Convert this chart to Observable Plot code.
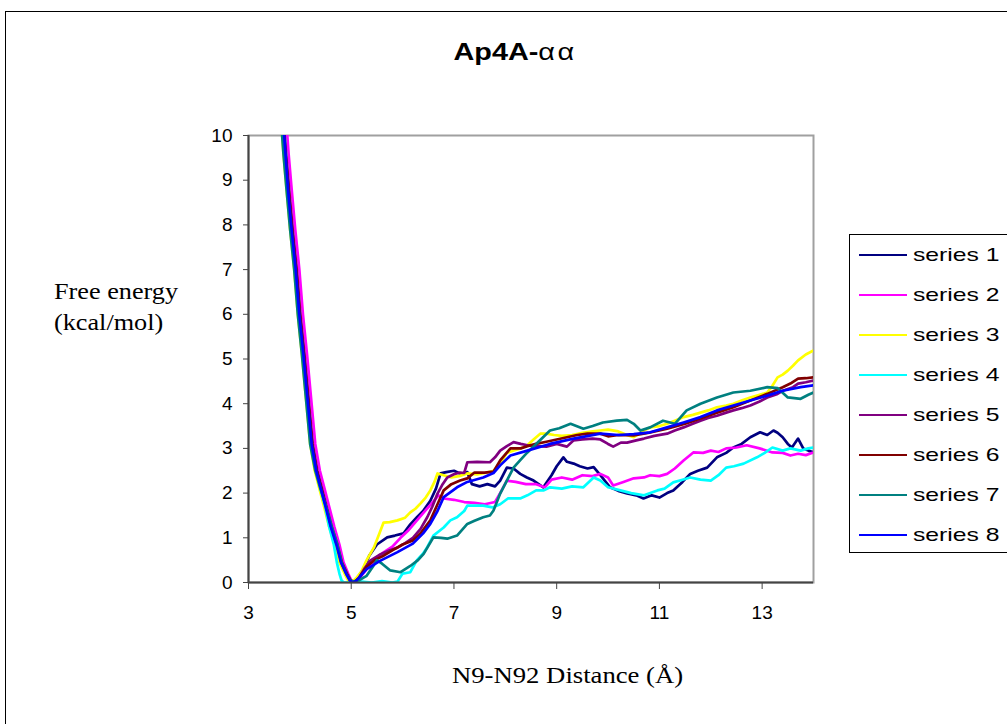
<!DOCTYPE html>
<html>
<head>
<meta charset="utf-8">
<script src="https://cdn.jsdelivr.net/npm/d3@7"></script>
<script src="https://cdn.jsdelivr.net/npm/@observablehq/plot@0.6"></script>
<style>
  html, body { margin: 0; padding: 0; background: #fff; }
  #wrap { position: relative; width: 1007px; height: 724px; overflow: hidden; }
  #wrap svg { position: absolute; left: 0; top: 0; }
  .border { position: absolute; left: 5px; top: 11px; width: 1100px; height: 800px; border: 1px solid #000; box-sizing: border-box; }
  .title { position: absolute; left: 0; width: 1030px; top: 38px; text-align: center; font: bold 24px "Liberation Sans", Arial, sans-serif; color: #000; transform: scaleX(1.2); transform-origin: 515px 0; }
  .title .greek { font-weight: normal; letter-spacing: 2px; }
  .ylab { position: absolute; left: 54px; top: 276px; font: 23px "Liberation Serif", "Times New Roman", serif; line-height: 31px; color: #000; transform: scaleX(1.14); transform-origin: 0 0; white-space: nowrap; }
  .xlab { position: absolute; left: 452px; top: 663px; font: 23px "Liberation Serif", "Times New Roman", serif; color: #000; transform: scaleX(1.16); transform-origin: 0 0; white-space: nowrap; }
  .legend { position: absolute; left: 849px; top: 234px; width: 200px; height: 319px; border: 1px solid #000; box-sizing: border-box; background: #fff; }
  .legend .item { position: absolute; left: 9px; height: 24px; display: flex; align-items: center; color: #000; }
  .legend .sw { width: 48px; height: 2px; margin-right: 6px; }
  .legend .tx { font: 19px "Liberation Sans", Arial, sans-serif; display: inline-block; transform: scaleX(1.3); transform-origin: 0 50%; white-space: nowrap; }
</style>
</head>
<body>
<div id="wrap"></div>
<script>
const seriesNames = ["series 1","series 2","series 3","series 4","series 5","series 6","series 7","series 8"];
const seriesColors = ["#000080","#ff00ff","#ffff00","#00ffff","#800080","#800000","#008080","#0000ff"];
const xTicks = [3,5,7,9,11,13];
const yTicks = [0,1,2,3,4,5,6,7,8,9,10];

const series1 = [[3.66,10.4],[3.71,9.6],[3.77,8.8],[3.84,7.9],[3.92,7.0],[3.99,6.0],[4.07,5.1],[4.15,4.1],[4.23,3.1],[4.32,2.5],[4.41,2.1],[4.5,1.7],[4.6,1.25],[4.71,0.85],[4.8,0.45],[4.9,0.2],[4.97,0.05],[5.04,0.0],[5.12,0.1],[5.24,0.31],[5.35,0.6],[5.5,0.85],[5.7,1.01],[5.85,1.05],[6.02,1.1],[6.15,1.3],[6.28,1.46],[6.4,1.6],[6.54,1.83],[6.65,2.1],[6.74,2.44],[6.85,2.47],[7.0,2.5],[7.15,2.42],[7.26,2.47],[7.35,2.2],[7.5,2.15],[7.65,2.2],[7.8,2.15],[7.9,2.28],[8.03,2.57],[8.16,2.55],[8.29,2.43],[8.42,2.35],[8.55,2.28],[8.74,2.13],[8.9,2.4],[9.0,2.6],[9.13,2.8],[9.2,2.7],[9.33,2.66],[9.45,2.6],[9.6,2.55],[9.72,2.58],[9.85,2.4],[10.04,2.13],[10.2,2.05],[10.37,1.99],[10.55,1.95],[10.69,1.88],[10.85,1.95],[11.0,1.9],[11.15,2.0],[11.27,2.06],[11.45,2.25],[11.6,2.43],[11.75,2.5],[11.93,2.57],[12.12,2.8],[12.3,2.9],[12.44,3.02],[12.6,3.1],[12.77,3.25],[12.96,3.36],[13.1,3.3],[13.22,3.4],[13.3,3.35],[13.4,3.25],[13.5,3.1],[13.58,3.02],[13.7,3.22],[13.8,3.0],[13.9,2.95],[14.0,2.91]];
const series2 = [[3.73,10.4],[3.78,9.6],[3.84,8.8],[3.91,7.9],[3.99,7.0],[4.06,6.0],[4.14,5.1],[4.22,4.1],[4.3,3.1],[4.39,2.5],[4.48,2.1],[4.57,1.7],[4.67,1.25],[4.77,0.85],[4.85,0.45],[4.94,0.2],[5.0,0.05],[5.06,0.0],[5.15,0.08],[5.3,0.3],[5.45,0.5],[5.6,0.65],[5.8,0.8],[5.96,1.0],[6.1,1.15],[6.25,1.35],[6.4,1.55],[6.55,1.75],[6.7,1.95],[6.8,1.88],[7.0,1.85],[7.2,1.8],[7.4,1.78],[7.6,1.75],[7.8,1.8],[7.9,2.0],[8.03,2.28],[8.2,2.25],[8.4,2.2],[8.6,2.2],[8.77,2.13],[8.9,2.3],[9.1,2.35],[9.3,2.3],[9.5,2.4],[9.7,2.38],[9.85,2.43],[10.0,2.35],[10.1,2.17],[10.3,2.25],[10.5,2.33],[10.7,2.35],[10.82,2.4],[11.0,2.38],[11.15,2.43],[11.3,2.55],[11.47,2.73],[11.66,2.91],[11.85,2.9],[12.0,2.95],[12.15,2.92],[12.3,3.0],[12.5,3.02],[12.7,3.07],[12.95,3.0],[13.2,2.91],[13.4,2.9],[13.55,2.84],[13.7,2.88],[13.85,2.85],[14.0,2.91]];
const series3 = [[3.63,10.4],[3.68,9.6],[3.74,8.8],[3.81,7.9],[3.89,7.0],[3.96,6.0],[4.04,5.1],[4.12,4.1],[4.2,3.1],[4.29,2.5],[4.38,2.1],[4.47,1.7],[4.57,1.25],[4.68,0.85],[4.77,0.45],[4.87,0.2],[4.94,0.05],[5.0,0.0],[5.1,0.1],[5.2,0.25],[5.3,0.5],[5.44,0.78],[5.55,1.1],[5.63,1.34],[5.75,1.35],[5.9,1.39],[6.05,1.45],[6.15,1.57],[6.25,1.65],[6.35,1.77],[6.45,1.9],[6.54,2.06],[6.62,2.25],[6.68,2.44],[6.8,2.4],[6.95,2.35],[7.1,2.38],[7.26,2.44],[7.45,2.42],[7.6,2.45],[7.77,2.5],[7.9,2.66],[8.03,2.9],[8.15,2.95],[8.3,3.0],[8.43,3.07],[8.55,3.2],[8.68,3.33],[8.8,3.33],[8.95,3.3],[9.1,3.28],[9.3,3.3],[9.5,3.35],[9.7,3.38],[9.85,3.4],[10.0,3.42],[10.2,3.38],[10.37,3.3],[10.5,3.25],[10.7,3.4],[10.82,3.47],[11.0,3.5],[11.15,3.55],[11.3,3.62],[11.47,3.7],[11.65,3.75],[11.8,3.8],[11.95,3.85],[12.12,3.92],[12.3,3.96],[12.44,4.0],[12.6,4.07],[12.77,4.14],[12.95,4.2],[13.1,4.25],[13.2,4.4],[13.3,4.59],[13.4,4.65],[13.5,4.74],[13.6,4.85],[13.7,4.97],[13.85,5.1],[14.0,5.19]];
const series4 = [[3.68,10.4],[3.73,9.6],[3.78,8.8],[3.84,7.9],[3.92,7.0],[3.98,6.0],[4.06,5.1],[4.14,4.1],[4.22,3.1],[4.31,2.5],[4.4,2.1],[4.49,1.7],[4.57,1.25],[4.66,0.85],[4.72,0.45],[4.77,0.2],[4.81,0.05],[4.85,0.0],[5.0,0.0],[5.2,0.02],[5.4,0.0],[5.6,0.03],[5.8,0.0],[5.9,0.02],[6.0,0.2],[6.15,0.23],[6.28,0.5],[6.4,0.65],[6.48,0.79],[6.6,1.05],[6.8,1.23],[6.93,1.39],[7.06,1.46],[7.2,1.6],[7.26,1.72],[7.4,1.72],[7.57,1.72],[7.75,1.68],[7.9,1.75],[8.05,1.88],[8.29,1.88],[8.43,1.95],[8.6,2.06],[8.75,2.06],[8.87,2.13],[9.1,2.1],[9.3,2.15],[9.52,2.13],[9.72,2.35],[9.85,2.28],[10.0,2.13],[10.24,2.06],[10.45,2.0],[10.7,1.95],[10.96,2.06],[11.1,2.1],[11.27,2.24],[11.45,2.3],[11.6,2.35],[11.8,2.3],[12.0,2.28],[12.15,2.4],[12.3,2.57],[12.45,2.6],[12.64,2.66],[12.9,2.8],[13.05,2.9],[13.2,3.02],[13.4,2.95],[13.55,3.0],[13.75,2.95],[13.9,3.0],[14.0,3.02]];
const series5 = [[3.68,10.4],[3.73,9.6],[3.79,8.8],[3.86,7.9],[3.94,7.0],[4.01,6.0],[4.09,5.1],[4.17,4.1],[4.25,3.1],[4.34,2.5],[4.43,2.1],[4.52,1.7],[4.62,1.25],[4.73,0.85],[4.82,0.45],[4.92,0.2],[4.99,0.05],[5.06,0.0],[5.15,0.1],[5.25,0.3],[5.37,0.49],[5.55,0.62],[5.75,0.72],[5.9,0.78],[6.05,0.88],[6.2,1.0],[6.35,1.2],[6.48,1.46],[6.58,1.7],[6.68,1.99],[6.78,2.2],[6.87,2.35],[7.0,2.42],[7.12,2.46],[7.2,2.45],[7.26,2.69],[7.45,2.7],[7.7,2.69],[7.8,2.8],[7.9,2.95],[8.03,3.05],[8.16,3.14],[8.3,3.1],[8.43,3.07],[8.6,3.05],[8.8,3.04],[9.0,3.1],[9.2,3.04],[9.33,3.18],[9.5,3.2],[9.7,3.22],[9.85,3.2],[10.0,3.1],[10.1,3.04],[10.25,3.13],[10.37,3.13],[10.55,3.18],[10.7,3.22],[10.9,3.28],[11.15,3.33],[11.3,3.4],[11.47,3.47],[11.65,3.55],[11.8,3.62],[11.95,3.68],[12.12,3.73],[12.3,3.8],[12.44,3.85],[12.6,3.9],[12.77,3.96],[12.95,4.05],[13.1,4.14],[13.3,4.22],[13.4,4.29],[13.6,4.37],[13.7,4.45],[13.85,4.48],[14.0,4.52]];
const series6 = [[3.67,10.4],[3.72,9.6],[3.78,8.8],[3.85,7.9],[3.93,7.0],[4.0,6.0],[4.08,5.1],[4.16,4.1],[4.24,3.1],[4.33,2.5],[4.42,2.1],[4.51,1.7],[4.61,1.25],[4.72,0.85],[4.81,0.45],[4.91,0.2],[4.98,0.05],[5.05,0.0],[5.15,0.1],[5.3,0.35],[5.45,0.5],[5.63,0.6],[5.8,0.72],[6.0,0.85],[6.2,0.94],[6.35,1.1],[6.54,1.39],[6.68,1.75],[6.8,2.06],[6.95,2.2],[7.12,2.28],[7.26,2.33],[7.4,2.46],[7.6,2.46],[7.77,2.48],[7.9,2.73],[8.1,3.0],[8.3,3.0],[8.43,3.05],[8.6,3.1],[8.8,3.15],[9.0,3.2],[9.2,3.25],[9.4,3.3],[9.6,3.33],[9.85,3.33],[10.0,3.27],[10.2,3.3],[10.5,3.29],[10.8,3.35],[11.15,3.44],[11.5,3.55],[11.8,3.67],[12.12,3.8],[12.44,3.92],[12.77,4.07],[13.1,4.22],[13.4,4.37],[13.55,4.45],[13.7,4.56],[13.85,4.57],[14.0,4.59]];
const series7 = [[3.63,10.4],[3.68,9.6],[3.74,8.8],[3.81,7.9],[3.89,7.0],[3.96,6.0],[4.04,5.1],[4.12,4.1],[4.2,3.1],[4.3,2.5],[4.4,2.1],[4.51,1.7],[4.62,1.25],[4.73,0.85],[4.81,0.45],[4.9,0.2],[4.96,0.08],[5.02,0.02],[5.15,0.05],[5.3,0.15],[5.42,0.35],[5.5,0.5],[5.6,0.42],[5.76,0.27],[5.96,0.23],[6.15,0.37],[6.3,0.5],[6.41,0.64],[6.6,1.01],[6.75,1.0],[6.87,0.98],[7.06,1.05],[7.26,1.31],[7.4,1.38],[7.57,1.46],[7.7,1.5],[7.77,1.61],[7.9,1.99],[8.03,2.28],[8.16,2.57],[8.3,2.75],[8.43,2.91],[8.6,3.1],[8.87,3.4],[9.05,3.45],[9.27,3.55],[9.52,3.44],[9.7,3.5],[9.9,3.58],[10.17,3.62],[10.37,3.64],[10.5,3.55],[10.63,3.4],[10.82,3.47],[11.07,3.62],[11.3,3.55],[11.53,3.85],[11.8,4.0],[12.12,4.14],[12.44,4.25],[12.77,4.29],[13.1,4.37],[13.3,4.35],[13.5,4.14],[13.75,4.11],[13.9,4.2],[14.0,4.25]];
const series8 = [[3.67,10.4],[3.72,9.6],[3.77,8.8],[3.84,7.9],[3.92,7.0],[3.99,6.0],[4.07,5.1],[4.15,4.1],[4.23,3.1],[4.32,2.5],[4.41,2.1],[4.5,1.7],[4.6,1.25],[4.71,0.85],[4.8,0.45],[4.9,0.2],[4.97,0.05],[5.03,0.0],[5.1,0.04],[5.3,0.3],[5.57,0.49],[5.9,0.68],[6.2,0.87],[6.4,1.1],[6.54,1.31],[6.68,1.6],[6.8,1.91],[7.06,2.13],[7.26,2.25],[7.57,2.35],[7.77,2.45],[7.9,2.62],[8.1,2.84],[8.43,2.95],[8.87,3.1],[9.33,3.22],[9.85,3.33],[10.2,3.3],[10.5,3.32],[10.82,3.36],[11.15,3.47],[11.47,3.58],[11.8,3.7],[12.12,3.85],[12.44,3.96],[12.77,4.07],[13.1,4.18],[13.4,4.29],[13.75,4.37],[14.0,4.41]];

const allSeries = [series1, series2, series3, series4, series5, series6, series7, series8];
const rows = allSeries.flatMap((s, i) => s.map(([x, y]) => ({x, y, name: seriesNames[i]})));

const chart = Plot.plot({
  width: 1007,
  height: 724,
  marginLeft: 248,
  marginRight: 194,
  marginTop: 135,
  marginBottom: 142,
  style: {fontFamily: "'Liberation Sans', Arial, sans-serif", fontSize: "19px", color: "#000", background: "transparent"},
  x: {domain: [3, 14]},
  y: {domain: [0, 10]},
  color: {domain: seriesNames, range: seriesColors},
  marks: [
    Plot.frame({stroke: "#a0a0a0", strokeWidth: 2}),
    Plot.line(rows, {x: "x", y: "y", z: "name", stroke: "name", strokeWidth: 2.7, clip: true, curve: "linear"}),
    Plot.ruleY([0], {stroke: "#444", strokeWidth: 2}),
    Plot.ruleX([3], {stroke: "#444", strokeWidth: 2}),
    Plot.axisX({ticks: xTicks, tickSize: 7, tickPadding: 16, label: null, tickFormat: d => String(d), stroke: "#444"}),
    Plot.axisY({ticks: yTicks, tickSize: 5, tickPadding: 11, label: null, tickFormat: d => String(d), stroke: "#444"})
  ]
});

const wrap = document.getElementById("wrap");
const border = document.createElement("div");
border.className = "border";
wrap.appendChild(border);
wrap.appendChild(chart);

const title = document.createElement("div");
title.className = "title";
title.innerHTML = 'Ap4A-<span class="greek">αα</span>';
wrap.appendChild(title);

const ylab = document.createElement("div");
ylab.className = "ylab";
ylab.innerHTML = "Free energy<br>(kcal/mol)";
wrap.appendChild(ylab);

const xlab = document.createElement("div");
xlab.className = "xlab";
xlab.textContent = "N9-N92 Distance (Å)";
wrap.appendChild(xlab);

const legend = document.createElement("div");
legend.className = "legend";
seriesNames.forEach((n, i) => {
  const it = document.createElement("div");
  it.className = "item";
  it.style.top = (8 + i * 40) + "px";
  const sw = document.createElement("span");
  sw.className = "sw";
  sw.style.background = seriesColors[i];
  const tx = document.createElement("span");
  tx.className = "tx";
  tx.textContent = n;
  it.appendChild(sw);
  it.appendChild(tx);
  legend.appendChild(it);
});
wrap.appendChild(legend);
</script>
</body>
</html>
